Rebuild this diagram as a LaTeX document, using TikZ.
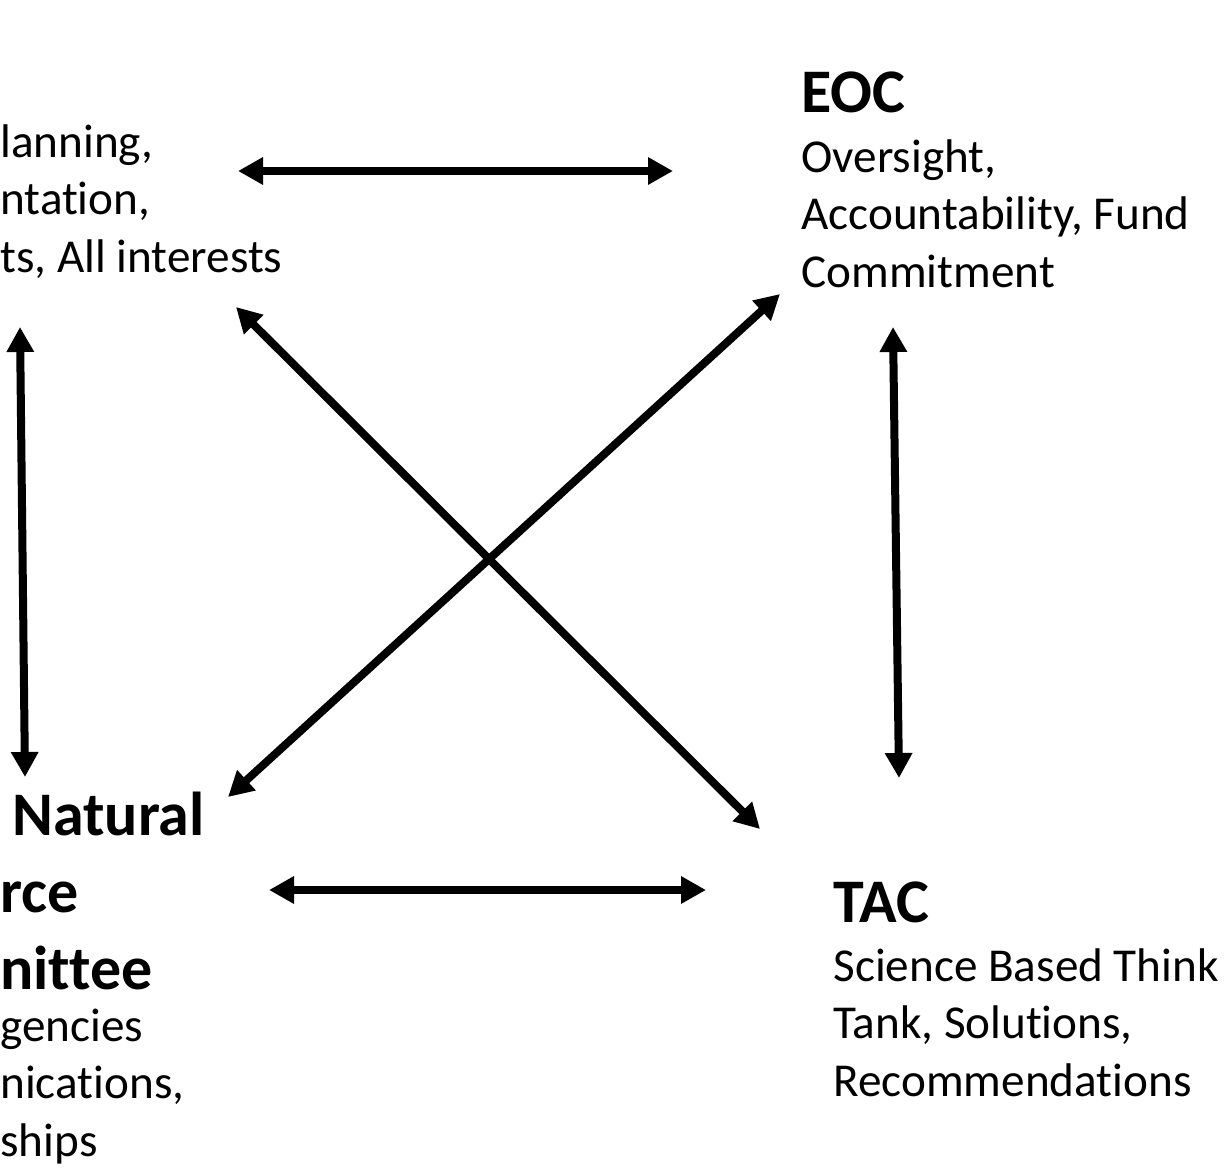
\documentclass[tikz,border=0pt]{standalone}
\usepackage{fontspec}
\setmainfont{Carlito}[Ligatures=NoCommon]
\usetikzlibrary{arrows.meta}

\tikzset{
  link/.style={line width=4pt, {Triangle[length=12.5pt,width=13pt]}-{Triangle[length=12.5pt,width=13pt]}},
  head/.style={anchor=base west, inner sep=0pt, align=left, font=\fontsize{31pt}{38.5pt}\selectfont\bfseries},
  body/.style={anchor=base west, inner sep=0pt, align=left, font=\fontsize{23.6pt}{28.7pt}\selectfont}
}

\begin{document}
\begin{tikzpicture}[x=0.5pt, y=-0.5pt]

\useasboundingbox (0,0) rectangle (1231,1173);
\clip (0,0) rectangle (1231,1173);

\coordinate (A) at (238,171);
\coordinate (B) at (673,171);
\coordinate (C) at (269,890);
\coordinate (D) at (706,890);
\coordinate (E) at (20,327);
\coordinate (F) at (25,777);
\coordinate (G) at (893,327);
\coordinate (H) at (899,778);
\coordinate (I) at (236,307);
\coordinate (J) at (760,829);
\coordinate (K) at (780,294);
\coordinate (L) at (228,797);


% base of a multi-line node = its last line
\node [body] (plan) at (0,272) {lanning,\\ntation,\\ts, All interests};

\node [head] (eoc) at (801,112) {EOC};
\node [body] (eocbody) at (801,287) {Oversight,\\Accountability, Fund\\Commitment};

\node [head] (nrc) at (0,989) {\hspace*{6pt}Natural\\rce\\nittee};
\node [body] (nrcbody) at (0,1156) {gencies\\nications,\\ships};

\node [head] (tac) at (833,922) {TAC};
\node [body] (tacbody) at (833,1096) {Science Based Think\\Tank, Solutions,\\Recommendations};


\draw [link] (A)--(B);
\draw [link] (C)--(D);
\draw [link] (E)--(F);
\draw [link] (G)--(H);
\draw [link] (I)--(J);
\draw [link] (K)--(L);

\end{tikzpicture}
\end{document}
